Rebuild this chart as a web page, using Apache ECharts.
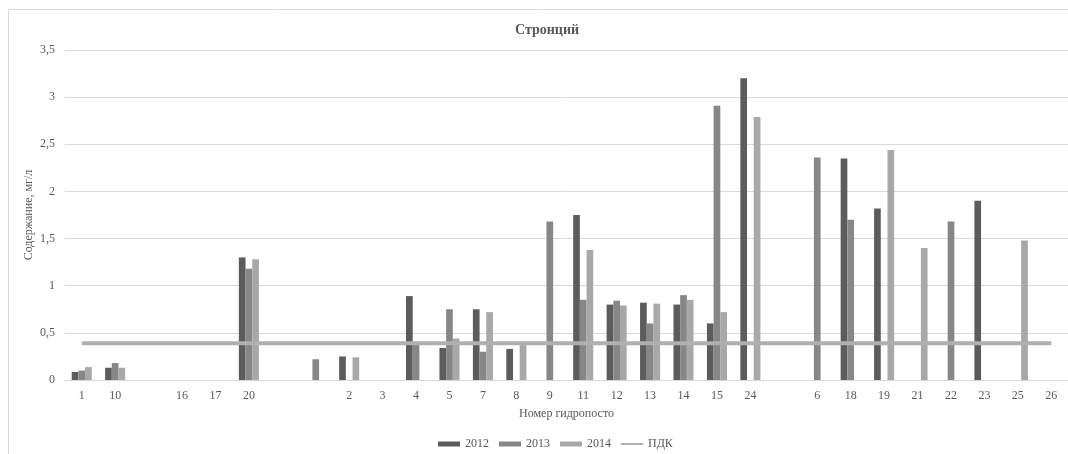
<!DOCTYPE html>
<html>
<head>
<meta charset="utf-8">
<script src="https://cdn.jsdelivr.net/npm/echarts@6/dist/echarts.min.js"></script>
<style>
html,body{margin:0;padding:0;background:#fff;}
#c{width:1068px;height:454px;}
</style>
</head>
<body>
<div id="c"></div>
<script>
var categories = ['1','10',' ','16','17','20','  ','   ','2','3','4','5','7','8','9','11','12','13','14','15','24','    ','6','18','19','21','22','23','25','26'];
var s2012 = [0.085,0.13,null,null,null,1.30,null,null,0.25,null,0.89,0.34,0.75,0.33,null,1.75,0.80,0.82,0.80,0.60,3.20,null,null,2.35,1.82,null,null,1.90,null,null];
var s2013 = [0.10,0.18,null,null,null,1.18,null,0.22,null,null,0.40,0.75,0.30,null,1.68,0.85,0.84,0.60,0.90,2.91,null,null,2.36,1.70,null,null,1.68,null,null,null];
var s2014 = [0.137,0.13,null,null,null,1.28,null,null,0.24,null,null,0.44,0.72,0.37,null,1.38,0.79,0.81,0.85,0.72,2.79,null,null,null,2.44,1.40,null,null,1.48,null];
var pdkValue = 0.39;
var pdk = categories.map(function(){ return pdkValue; });
var yTicks = {min:0, max:3.5, interval:0.5};

var font = '"Liberation Serif", "Times New Roman", serif';
var txt = '#595959';
var chart = echarts.init(document.getElementById('c'), null, {renderer:'canvas'});
chart.setOption({
  backgroundColor:'#ffffff',
  animation:false,
  graphic:[{type:'rect', shape:{x:8.5,y:9.5,width:1100,height:500}, style:{fill:'none',stroke:'#d9d9d9',lineWidth:1}, z:-1}],
  title:{text:'Стронций', left:542, top:18, textAlign:'center',
    textStyle:{fontFamily:font,fontSize:14,fontWeight:'bold',color:txt}},
  legend:{left:433, top:433, itemWidth:22, itemHeight:5, itemGap:10,
    textStyle:{fontFamily:font,fontSize:12,color:txt},
    data:[
      {name:'2012', icon:'rect'},
      {name:'2013', icon:'rect'},
      {name:'2014', icon:'rect'},
      {name:'ПДК', icon:'path://M0,0L16,0L16,1.5L0,1.5Z'}
    ]},
  grid:{left:65, top:50, width:1005, height:330, containLabel:false},
  xAxis:{type:'category', data:categories,
    name:'Номер гидропосто', nameLocation:'middle', nameGap:28,
    nameTextStyle:{fontFamily:font,fontSize:12,color:txt},
    axisLine:{lineStyle:{color:'#d9d9d9'}}, axisTick:{show:false},
    axisLabel:{interval:0, margin:10, fontFamily:font,fontSize:12,color:txt}},
  yAxis:{type:'value', min:yTicks.min, max:yTicks.max, interval:yTicks.interval,
    name:'Содержание, мг/л', nameLocation:'middle', nameGap:30, nameMoveOverlap:false,
    nameTextStyle:{fontFamily:font,fontSize:12,color:txt},
    axisLine:{show:false}, axisTick:{show:false},
    splitLine:{lineStyle:{color:'#d9d9d9'}},
    axisLabel:{margin:10, fontFamily:font,fontSize:12,color:txt,
      formatter:function(v){ return String(v).replace('.',','); }}},
  series:[
    {name:'2012', type:'bar', data:s2012, barGap:'0%', barCategoryGap:'40%', itemStyle:{color:'#5c5c5c'}},
    {name:'2013', type:'bar', data:s2013, barGap:'0%', barCategoryGap:'40%', itemStyle:{color:'#878787'}},
    {name:'2014', type:'bar', data:s2014, barGap:'0%', barCategoryGap:'40%', itemStyle:{color:'#a8a8a8'}},
    {name:'ПДК', type:'line', data:pdk, symbol:'none', z:5, itemStyle:{color:'#b0b0b0'},
      lineStyle:{color:'#b0b0b0', width:4}}
  ]
});
</script>
</body>
</html>
